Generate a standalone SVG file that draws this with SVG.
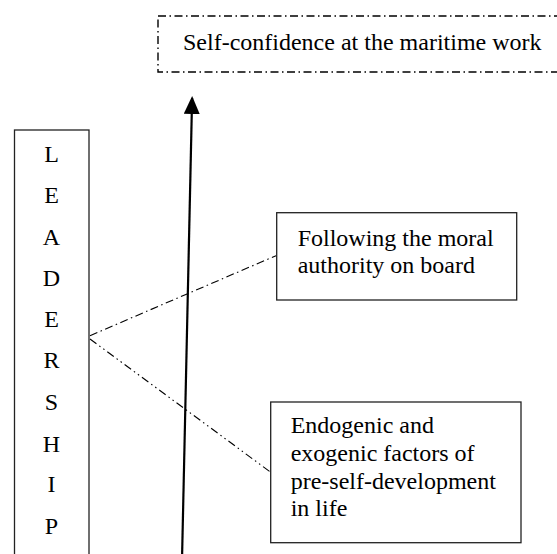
<svg xmlns="http://www.w3.org/2000/svg" width="557" height="554" viewBox="0 0 557 554">
<style>
text{font-family:"Liberation Serif","Times New Roman",serif;font-size:24px;fill:#000}
.box{fill:#fff;stroke:#222;stroke-width:1.3}
.dbox{fill:none;stroke:#000;stroke-width:1.4;stroke-dasharray:8 3.5 1.5 3.5}
.c1{fill:none;stroke:#000;stroke-width:1.1;stroke-dasharray:8 3.5 1.5 3.5}
.c2{fill:none;stroke:#000;stroke-width:1.1;stroke-dasharray:8 3.5 1.5 3.5 1.5 3.5}
.arr{fill:none;stroke:#000;stroke-width:2.2}
.mid{text-anchor:middle}
</style>
<defs>
<marker id="ah" markerWidth="18" markerHeight="16" refX="16" refY="8" orient="auto" markerUnits="userSpaceOnUse" viewBox="0 0 18 16">
<path d="M0,0 L18,8 L0,16 Z" fill="#000"/>
</marker>
</defs>
<g id="goal">
<rect class="dbox" x="158" y="16" width="420" height="56"/>
<text x="183" y="50">Self-confidence at the maritime work</text>
</g>
<g id="leadership">
<rect class="box" x="14.5" y="130" width="74.5" height="440"/>
<text class="mid" x="51.5" y="162">L</text>
<text class="mid" x="51.5" y="203">E</text>
<text class="mid" x="51.5" y="245">A</text>
<text class="mid" x="51.5" y="286">D</text>
<text class="mid" x="51.5" y="327">E</text>
<text class="mid" x="51.5" y="368">R</text>
<text class="mid" x="51.5" y="410">S</text>
<text class="mid" x="51.5" y="452">H</text>
<text class="mid" x="51.5" y="492">I</text>
<text class="mid" x="51.5" y="534">P</text>
</g>
<g id="moral">
<rect class="box" x="276.7" y="212.7" width="240" height="87.3"/>
<text x="297.7" y="246">Following the moral</text>
<text x="297.7" y="272.5">authority on board</text>
</g>
<g id="factors">
<rect class="box" x="270.7" y="402" width="250.3" height="140.7"/>
<text x="290.7" y="433.3">Endogenic and</text>
<text x="290.7" y="461">exogenic factors of</text>
<text x="290.7" y="488.7">pre-self-development</text>
<text x="290.7" y="516.4">in life</text>
</g>
<g id="connectors">
<path class="arr" d="M182,560 L192.1,98" marker-end="url(#ah)"/>
<path class="c1" d="M90,335.7 L276,255.7"/>
<path class="c2" d="M90,339 L270,471.7"/>
</g>
</svg>
